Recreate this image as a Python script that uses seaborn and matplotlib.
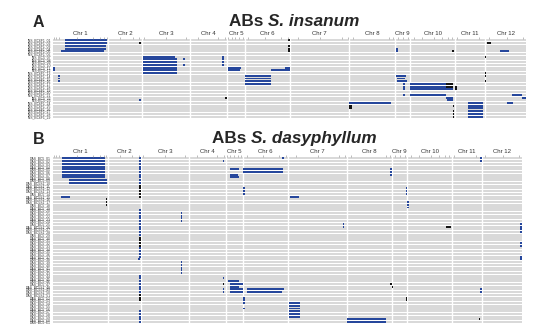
import matplotlib
matplotlib.use("Agg")
import matplotlib.pyplot as plt
import matplotlib.transforms as mtransforms
import seaborn as sns
import pandas as pd

sns.set_theme(style="white")
plt.rcParams["font.family"] = ["Liberation Sans", "DejaVu Sans"]

# ---------------- data ----------------
chrom_names = ["Chr 1", "Chr 2", "Chr 3", "Chr 4", "Chr 5", "Chr 6",
               "Chr 7", "Chr 8", "Chr 9", "Chr 10", "Chr 11", "Chr 12"]
chrom_len = [138, 85, 120, 92, 45, 112, 148, 115, 38, 112, 75, 102]  # Mb

labels_A = ("INS_BC6F1_01 INS_BC6F1_02 INS_BC6F1_03 INS_BC6F1_04 INS_BC6F1_05 "
            "INS_BC6F1_06 INS_BC5_07 INS_BC5_08 INS_BC5_09 INS_BC5_10 INS_BC5_11 "
            "INS_BC5_12 INS_BC6F1_13 INS_BC6F1_14 INS_BC6F1_15 INS_BC6F1_16 "
            "INS_BC6F1_17 INS_BC6F1_18 INS_BC6F1_19 INS_BC6F1_20 INS_BC6F1_21 "
            "INS_BC5_22 INS_BC5_23 INS_BC6F1_24 INS_BC6F1_25 INS_BC6F1_26 "
            "INS_BC6F1_27 INS_BC6F1_28 INS_BC6F1_29").split()

labels_B = ("DAS_BC5_01 DAS_BC5_02 DAS_BC5_03 DAS_BC5_04 DAS_BC5_05 DAS_BC5_06 "
            "DAS_BC5_07 DAS_BC5_08 DAS_BC5_09 DAS_BC5S1_10 DAS_BC5S1_11 DAS_BC5S1_12 "
            "DAS_BC5S1_13 DAS_BC5_14 DAS_BC5S1_15 DAS_BC5S1_16 DAS_BC5S1_17 DAS_BC5_18 "
            "DAS_BC5_19 DAS_BC5_20 DAS_BC5_21 DAS_BC5_22 DAS_BC5_23 DAS_BC5_24 "
            "DAS_BC5_25 DAS_BC5S1_26 DAS_BC5S1_27 DAS_BC5S1_28 DAS_BC5_29 DAS_BC5_30 "
            "DAS_BC5_31 DAS_BC5_32 DAS_BC5_33 DAS_BC5_34 DAS_BC5_35 DAS_BC5_36 "
            "DAS_BC5_37 DAS_BC5_38 DAS_BC5_39 DAS_BC5_40 DAS_BC5_41 DAS_BC5_42 "
            "DAS_BC5_43 DAS_BC5_44 DAS_BC5_45 DAS_BC5_46 DAS_BC5_47 DAS_BC5S1_48 "
            "DAS_BC5S1_49 DAS_BC5S1_50 DAS_BC5S1_51 DAS_BC5_52 DAS_BC5_53 DAS_BC5_54 "
            "DAS_BC5_55 DAS_BC5_56 DAS_BC5_57 DAS_BC5_58 DAS_BC5_59 DAS_BC5_60 "
            "DAS_BC5_61").split()

# SNP marker positions shown along the top of each panel: (chromosome, Mb)
markers = [(1, 3), (1, 8), (1, 14), (1, 60), (1, 100), (1, 118), (1, 128), (1, 134),
           (2, 30), (2, 62), (2, 78), (3, 5), (3, 60), (3, 110), (4, 20), (4, 70),
           (4, 88), (5, 3), (5, 12), (5, 20), (5, 30), (5, 40), (6, 8), (6, 50),
           (6, 90), (6, 108), (7, 20), (7, 75), (7, 130), (7, 145), (8, 10), (8, 100),
           (8, 110), (9, 6), (9, 20), (9, 32), (10, 8), (10, 30), (10, 60), (10, 80),
           (10, 95), (10, 105), (11, 5), (11, 60), (12, 10), (12, 55), (12, 95)]

# introgressions: (row, chromosome, start Mb, end Mb, kind)  b = introgression, k = heterozygous
segments_A = [
    (0, 1, 30, 135, "b"), (1, 1, 30, 135, "b"), (2, 1, 30, 133, "b"), (3, 1, 30, 133, "b"),
    (4, 1, 20, 128, "b"), (10, 1, 1, 5, "b"), (11, 1, 1, 5, "b"), (13, 1, 12, 17, "b"),
    (14, 1, 12, 17, "b"), (15, 1, 12, 17, "b"),
    (1, 2, 78, 83, "k"), (22, 2, 76, 81, "b"),
    (6, 3, 3, 82, "b"), (7, 3, 3, 86, "b"), (8, 3, 3, 86, "b"), (9, 3, 3, 86, "b"),
    (10, 3, 3, 86, "b"), (11, 3, 3, 86, "b"), (12, 3, 3, 86, "b"),
    (7, 3, 101, 106, "b"), (9, 3, 101, 106, "b"),
    (6, 4, 80, 85, "b"), (7, 4, 80, 85, "b"), (8, 4, 80, 85, "b"), (9, 4, 80, 85, "b"),
    (21, 4, 87, 92, "k"),
    (10, 5, 2, 35, "b"), (11, 5, 2, 32, "b"),
    (10, 6, 100, 112, "b"), (11, 6, 65, 112, "b"), (13, 6, 0, 65, "b"), (14, 6, 0, 65, "b"),
    (15, 6, 0, 65, "b"), (16, 6, 0, 65, "b"),
    (0, 6, 108, 112, "k"), (2, 6, 108, 112, "k"), (3, 6, 108, 112, "k"), (4, 6, 108, 112, "k"),
    (23, 8, 0, 105, "b"), (24, 8, 0, 7, "k"), (25, 8, 0, 7, "k"),
    (3, 9, 2, 6, "b"), (4, 9, 3, 7, "b"), (13, 9, 2, 28, "b"), (14, 9, 5, 25, "b"),
    (15, 9, 5, 30, "b"), (16, 9, 20, 25, "b"), (17, 9, 20, 25, "b"), (18, 9, 20, 25, "b"),
    (20, 9, 20, 25, "b"),
    (4, 10, 105, 109, "k"), (16, 10, 0, 88, "b"), (16, 10, 88, 106, "k"),
    (17, 10, 0, 88, "b"), (17, 10, 88, 106, "k"), (18, 10, 0, 106, "b"), (20, 10, 0, 90, "b"),
    (21, 10, 90, 106, "b"), (22, 10, 92, 106, "b"),
    (24, 10, 106, 109, "k"), (26, 10, 106, 109, "k"), (27, 10, 106, 109, "k"), (28, 10, 106, 109, "k"),
    (17, 11, 0, 5, "k"), (18, 11, 0, 5, "k"),
    (23, 11, 32, 70, "b"), (24, 11, 32, 70, "b"), (25, 11, 32, 70, "b"), (26, 11, 32, 70, "b"),
    (27, 11, 32, 70, "b"), (28, 11, 32, 70, "b"),
    (1, 12, 5, 15, "k"), (4, 12, 38, 60, "b"), (20, 12, 68, 92, "b"), (21, 12, 92, 102, "b"),
    (23, 12, 55, 70, "b"),
    (6, 12, 0, 2, "k"), (12, 12, 0, 2, "k"), (13, 12, 0, 2, "k"), (15, 12, 0, 2, "k"),
]

segments_B = [
    (0, 1, 22, 132, "b"), (1, 1, 22, 132, "b"), (2, 1, 22, 132, "b"), (3, 1, 22, 132, "b"),
    (4, 1, 22, 132, "b"), (5, 1, 22, 132, "b"), (6, 1, 22, 132, "b"), (7, 1, 22, 132, "b"),
    (8, 1, 40, 135, "b"), (9, 1, 40, 135, "b"), (14, 1, 20, 42, "b"),
    (15, 1, 133, 137, "k"), (16, 1, 133, 137, "k"), (17, 1, 133, 137, "k"),
    (0, 2, 79, 84, "b"), (1, 2, 79, 84, "b"), (2, 2, 79, 84, "b"), (3, 2, 79, 84, "b"),
    (4, 2, 79, 84, "b"), (5, 2, 79, 84, "b"), (6, 2, 79, 84, "b"), (7, 2, 79, 84, "b"),
    (8, 2, 79, 84, "b"), (9, 2, 79, 84, "b"), (10, 2, 79, 84, "k"), (11, 2, 79, 84, "k"),
    (12, 2, 79, 84, "k"), (13, 2, 79, 84, "k"), (14, 2, 79, 84, "k"),
    (19, 2, 79, 84, "b"), (20, 2, 79, 84, "b"), (21, 2, 79, 84, "b"), (22, 2, 79, 84, "b"),
    (23, 2, 79, 84, "b"), (24, 2, 79, 84, "b"), (25, 2, 79, 84, "b"), (26, 2, 79, 84, "b"),
    (27, 2, 79, 84, "b"), (28, 2, 79, 84, "b"), (29, 2, 79, 84, "k"), (30, 2, 79, 84, "k"),
    (31, 2, 79, 84, "k"), (32, 2, 79, 84, "k"), (33, 2, 79, 84, "b"), (34, 2, 79, 84, "b"),
    (35, 2, 79, 84, "b"), (36, 2, 79, 84, "b"), (37, 2, 76, 81, "b"),
    (43, 2, 79, 84, "b"), (44, 2, 79, 84, "b"), (45, 2, 79, 84, "b"), (46, 2, 79, 84, "b"),
    (47, 2, 79, 84, "b"), (48, 2, 79, 84, "b"), (49, 2, 79, 84, "b"), (50, 2, 79, 84, "k"),
    (51, 2, 79, 84, "k"), (52, 2, 79, 84, "k"),
    (56, 2, 79, 84, "b"), (57, 2, 79, 84, "b"), (58, 2, 79, 84, "b"), (59, 2, 79, 84, "b"),
    (60, 2, 79, 84, "b"),
    (20, 3, 99, 103, "b"), (21, 3, 99, 103, "b"), (22, 3, 99, 103, "b"), (23, 3, 99, 103, "b"),
    (38, 3, 99, 103, "b"), (39, 3, 99, 103, "b"), (40, 3, 99, 103, "b"), (41, 3, 99, 103, "b"),
    (42, 3, 99, 103, "b"),
    (1, 4, 85, 89, "b"), (44, 4, 85, 89, "b"), (46, 4, 85, 89, "k"), (48, 4, 85, 89, "b"),
    (49, 4, 85, 89, "b"),
    (4, 5, 10, 35, "b"), (6, 5, 10, 30, "b"), (7, 5, 10, 35, "b"),
    (45, 5, 5, 35, "b"), (46, 5, 10, 43, "b"), (47, 5, 10, 35, "b"), (48, 5, 10, 43, "b"),
    (49, 5, 10, 43, "b"),
    (0, 6, 97, 101, "b"), (4, 6, 0, 100, "b"), (5, 6, 0, 100, "b"),
    (11, 6, 0, 3, "b"), (12, 6, 0, 3, "b"), (13, 6, 0, 3, "b"),
    (48, 6, 8, 102, "b"), (49, 6, 8, 97, "b"),
    (51, 6, 0, 3, "b"), (52, 6, 0, 3, "b"), (53, 6, 0, 3, "b"), (55, 6, 0, 3, "b"),
    (14, 7, 5, 28, "b"), (24, 7, 138, 142, "b"), (25, 7, 138, 142, "b"),
    (53, 7, 3, 30, "b"), (54, 7, 3, 30, "b"), (55, 7, 3, 30, "b"), (56, 7, 3, 30, "b"),
    (57, 7, 3, 30, "b"), (58, 7, 3, 30, "b"),
    (4, 8, 110, 114, "b"), (5, 8, 110, 114, "b"), (6, 8, 110, 114, "b"), (46, 8, 110, 114, "k"),
    (59, 8, 0, 98, "b"), (60, 8, 0, 98, "b"),
    (11, 9, 34, 38, "b"), (12, 9, 34, 38, "b"), (13, 9, 34, 38, "b"), (47, 9, 0, 3, "k"),
    (51, 9, 34, 38, "k"), (52, 9, 34, 38, "k"),
    (16, 10, 0, 3, "b"), (17, 10, 0, 3, "b"), (18, 10, 0, 3, "b"), (25, 10, 97, 110, "k"),
    (0, 11, 70, 75, "b"), (1, 11, 70, 75, "b"), (48, 11, 71, 75, "b"), (49, 11, 71, 75, "b"),
    (59, 11, 68, 72, "k"),
    (24, 12, 98, 102, "b"), (25, 12, 98, 102, "b"), (26, 12, 98, 102, "b"), (27, 12, 98, 102, "b"),
    (31, 12, 98, 102, "b"), (32, 12, 98, 102, "b"), (36, 12, 98, 102, "b"), (37, 12, 98, 102, "b"),
]

palette = {"b": "#26479c", "k": "#141414"}
row_grey = "#d9d9d9"

# ---------------- figure ----------------
W, H = 545, 324
fig = plt.figure(figsize=(W / 100, H / 100), dpi=100)
fig.patch.set_facecolor("white")

offsets = [0]
for L in chrom_len[:-1]:
    offsets.append(offsets[-1] + L)
genome_len = sum(chrom_len)


def panel(rect, labels, segments, ymax):
    ax = fig.add_axes(rect)
    n = len(labels)
    rows = list(range(n))
    # grey background lanes
    ax.barh(rows, [genome_len] * n, left=0, height=0.76, color=row_grey,
            linewidth=0, zorder=1)
    for off in offsets[1:]:
        ax.axvline(off, color="white", lw=1.0, zorder=2)
    df = pd.DataFrame(segments, columns=["row", "chr", "start", "end", "kind"])
    df["x0"] = [offsets[c - 1] + s for c, s in zip(df["chr"], df["start"])]
    df["w"] = df["end"] - df["start"]
    for kind, sub in df.groupby("kind"):
        ax.barh(sub["row"], sub["w"], left=sub["x0"], height=0.72,
                color=palette[kind], linewidth=0, zorder=3, antialiased=False)
    # marker track just above the first row
    mk = pd.DataFrame(markers, columns=["chr", "pos"])
    mk["x"] = [offsets[c - 1] + p for c, p in zip(mk["chr"], mk["pos"])]
    mk["y"] = -0.75
    sns.scatterplot(data=mk, x="x", y="y", ax=ax, marker="|", s=2, color="#8a8a8a",
                    linewidth=0.4, legend=False, clip_on=False, zorder=4)
    ax.set_xlim(0, genome_len)
    ax.set_ylim(ymax, -0.5)
    ax.set_xlabel("")
    ax.set_ylabel("")
    ax.set_xticks([])
    ax.set_yticks(rows)
    ax.set_yticklabels(labels, fontsize=2.4, color="#333333")
    ax.tick_params(axis="y", length=0, pad=1.5)
    sns.despine(ax=ax, left=True, bottom=True)
    trans = mtransforms.blended_transform_factory(ax.transData, ax.transAxes)
    for name, off, L in zip(chrom_names, offsets, chrom_len):
        ax.annotate(name, xy=(off + L / 2, 1.0), xycoords=trans, xytext=(0, 2.0),
                    textcoords="offset points", ha="center", va="bottom",
                    fontsize=4.3, color="#333333")
    return ax


axA = panel([53 / W, 1 - 118 / H, 473 / W, 79 / H], labels_A, segments_A, 28.5)
axB = panel([53 / W, 0.5 / H, 469 / W, 166.5 / H], labels_B, segments_B, 60.5)

renderer = fig.canvas.get_renderer()


def title(xc_px, base_px, plain, ital, size):
    t1 = fig.text(0, 0, plain, fontsize=size, fontweight="bold", va="baseline")
    t2 = fig.text(0, 0, ital, fontsize=size, fontweight="bold", style="italic", va="baseline")
    w1 = t1.get_window_extent(renderer).width
    w2 = t2.get_window_extent(renderer).width
    x0 = xc_px - (w1 + w2) / 2
    y = 1 - base_px / H
    t1.set_position((x0 / W, y))
    t2.set_position(((x0 + w1) / W, y))


title(294, 26, "ABs ", "S. insanum", 12.3)
title(294, 143, "ABs ", "S. dasyphyllum", 12.3)
fig.text(33 / W, 1 - 27 / H, "A", fontsize=11.5, fontweight="bold", va="baseline")
fig.text(33 / W, 1 - 144 / H, "B", fontsize=11.5, fontweight="bold", va="baseline")

fig.savefig("out.png", dpi=100, facecolor="white")
